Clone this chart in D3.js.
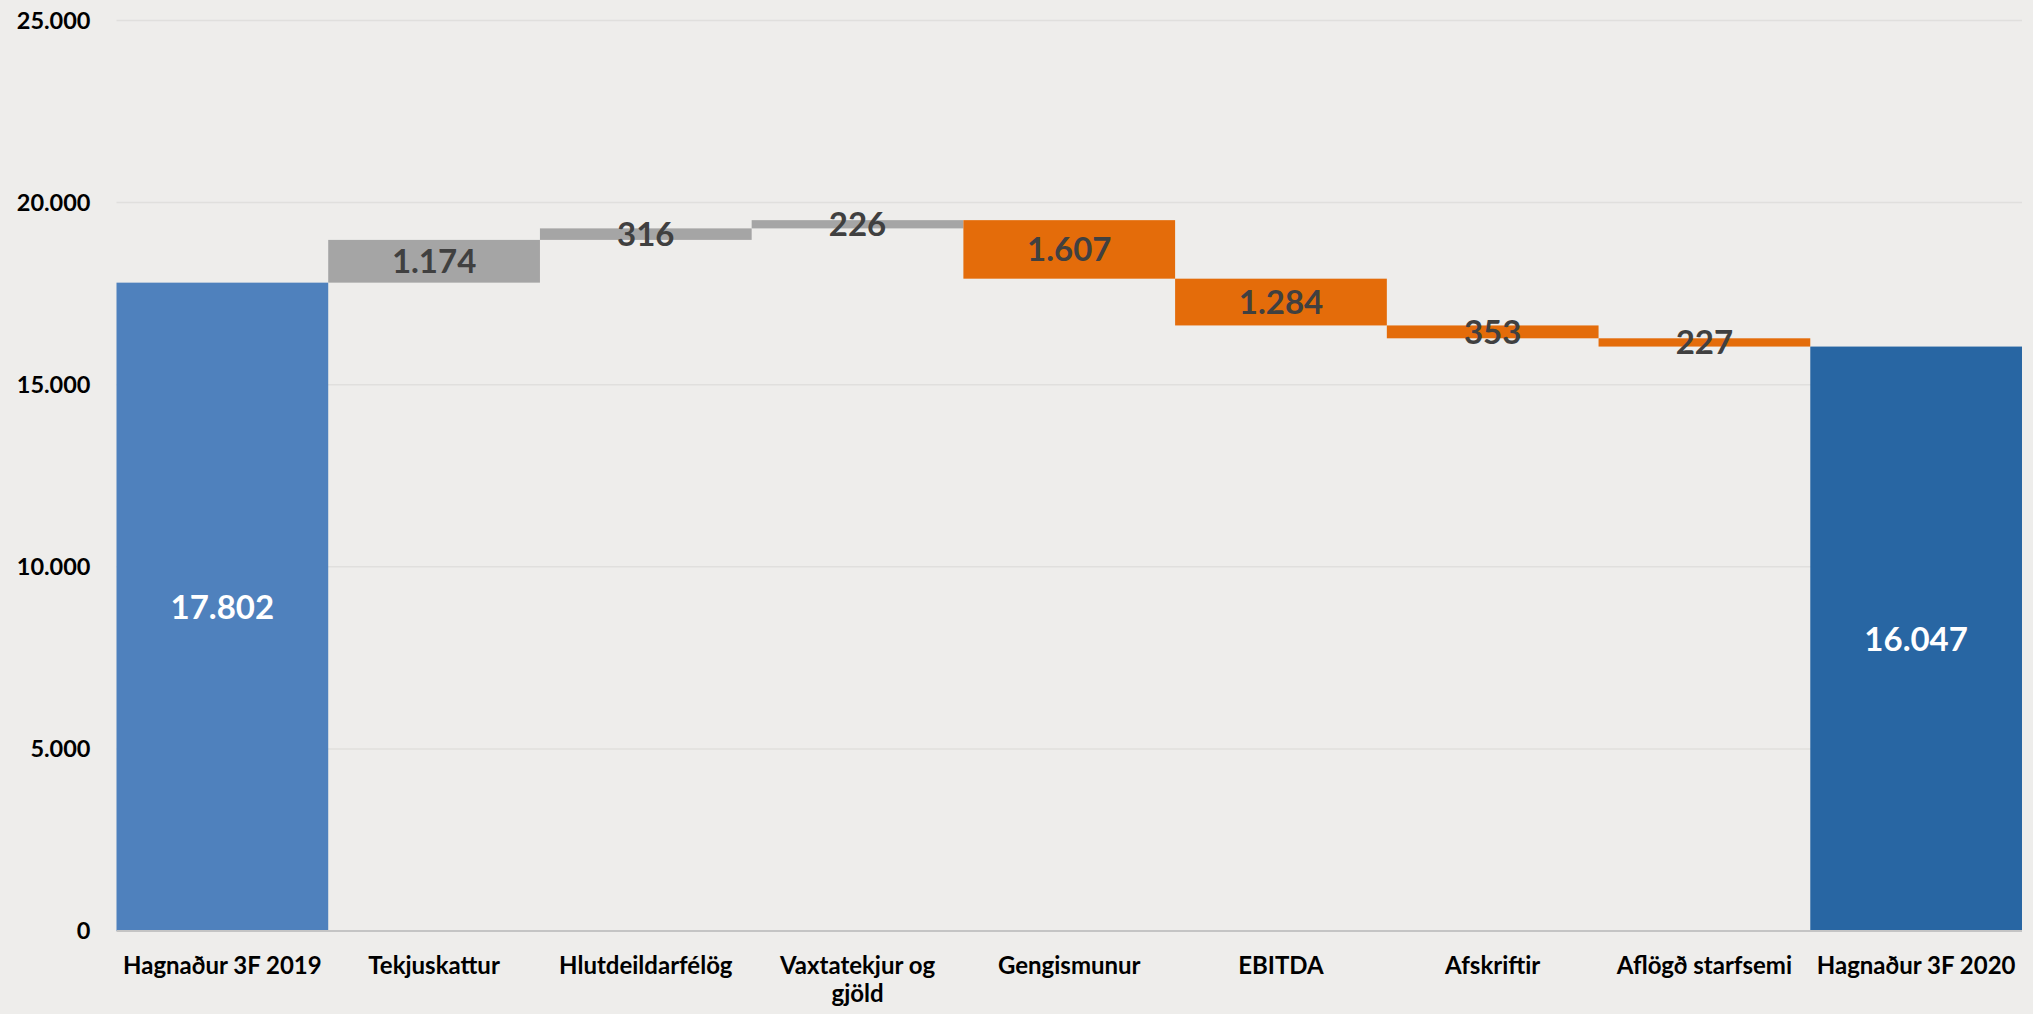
<!DOCTYPE html>
<html>
<head>
<meta charset="utf-8">
<script src="https://cdn.jsdelivr.net/npm/d3@7"></script>
<style>
  html, body { margin: 0; padding: 0; background: #EEEDEB; }
  svg { display: block; }
  text { font-family: Lato, "Open Sans", sans-serif; font-weight: bold; }
</style>
</head>
<body>
<svg id="chart" width="2033" height="1014"></svg>
<script>
// ---- data ----
const categories = ["Hagnaður 3F 2019", "Tekjuskattur", "Hlutdeildarfélög", "Vaxtatekjur og gjöld",
                    "Gengismunur", "EBITDA", "Afskriftir", "Aflögð starfsemi", "Hagnaður 3F 2020"];
const changes = [17802, 1174, 316, 226, -1607, -1284, -353, -227, 16047];
const kinds = ["total", "up", "up", "up", "down", "down", "down", "down", "total"];
const yTicks = [0, 5000, 10000, 15000, 20000, 25000];

// ---- layout ----
const W = 2033, H = 1014;
const margin = { left: 116.5, right: 11, top: 20.5, bottom: 83 };
const svg = d3.select("#chart");

const locale = d3.formatLocale({ decimal: ",", thousands: ".", grouping: [3], currency: ["", ""] });
const fmt = locale.format(",d");

// compute waterfall segments
let running = 0;
const segs = categories.map((c, i) => {
  let y0, y1;
  if (kinds[i] === "total") { y0 = 0; y1 = changes[i]; running = changes[i]; }
  else { y0 = running; y1 = running + changes[i]; running = y1; }
  return { cat: c, kind: kinds[i], value: Math.abs(changes[i]), lo: Math.min(y0, y1), hi: Math.max(y0, y1) };
});

const x = d3.scaleBand().domain(categories).range([margin.left, W - margin.right]).paddingInner(0).paddingOuter(0);
const y = d3.scaleLinear().domain([0, 25000]).range([H - margin.bottom, margin.top]);

const colors = { up: "#A5A5A5", down: "#E46C0A" };
const totalColors = ["#4F81BD", "#2866A3"];

// gridlines
svg.append("g").selectAll("line").data(yTicks.filter(t => t > 0)).join("line")
  .attr("x1", margin.left).attr("x2", W - margin.right)
  .attr("y1", d => y(d)).attr("y2", d => y(d))
  .attr("stroke", "#E0DFDD").attr("stroke-width", 1.5);

// y axis labels
const yAxis = d3.axisLeft(y).tickValues(yTicks).tickFormat(fmt).tickSize(0).tickPadding(26);
const gy = svg.append("g").attr("transform", `translate(${margin.left},0)`).call(yAxis);
gy.select(".domain").remove();
gy.selectAll("text").attr("font-size", 23.5).attr("fill", "#000").attr("font-family", "Lato, sans-serif").attr("font-weight", "bold");

// bars
let totalIdx = 0;
svg.append("g").selectAll("rect").data(segs).join("rect")
  .attr("x", d => x(d.cat))
  .attr("width", x.bandwidth())
  .attr("y", d => y(d.hi))
  .attr("height", d => y(d.lo) - y(d.hi))
  .attr("fill", d => d.kind === "total" ? totalColors[totalIdx++] : colors[d.kind]);

// x axis baseline
svg.append("line")
  .attr("x1", margin.left).attr("x2", W - margin.right)
  .attr("y1", y(0)).attr("y2", y(0))
  .attr("stroke", "#C4C4C4").attr("stroke-width", 2);

// data labels
svg.append("g").selectAll("text").data(segs).join("text")
  .attr("x", d => x(d.cat) + x.bandwidth() / 2)
  .attr("y", d => (y(d.lo) + y(d.hi)) / 2)
  .attr("dy", "0.36em")
  .attr("text-anchor", "middle")
  .attr("font-size", 33)
  .attr("fill", d => d.kind === "total" ? "#FFFFFF" : "#404040")
  .text(d => fmt(d.value));

// x axis labels (wrapped)
const xAxis = d3.axisBottom(x).tickSize(0).tickPadding(0);
const gx = svg.append("g").attr("transform", `translate(0,${y(0)})`).call(xAxis);
gx.select(".domain").remove();
gx.selectAll("text")
  .attr("font-size", 24).attr("fill", "#000").attr("font-family", "Lato, sans-serif").attr("font-weight", "bold")
  .attr("y", 0).attr("dy", null)
  .each(function(d) {
    const t = d3.select(this);
    const words = d.split(" ");
    const maxW = x.bandwidth() - 4;
    let lines = [], line = [];
    t.text(null);
    const probe = t.append("tspan");
    words.forEach(w => {
      const test = line.concat([w]).join(" ");
      probe.text(test);
      if (probe.node().getComputedTextLength() > maxW && line.length) {
        lines.push(line.join(" ")); line = [w];
      } else line.push(w);
    });
    lines.push(line.join(" "));
    probe.remove();
    lines.forEach((l, i) => {
      t.append("tspan").attr("x", 0).attr("y", 43 + i * 28).text(l);
    });
  });
</script>
</body>
</html>
